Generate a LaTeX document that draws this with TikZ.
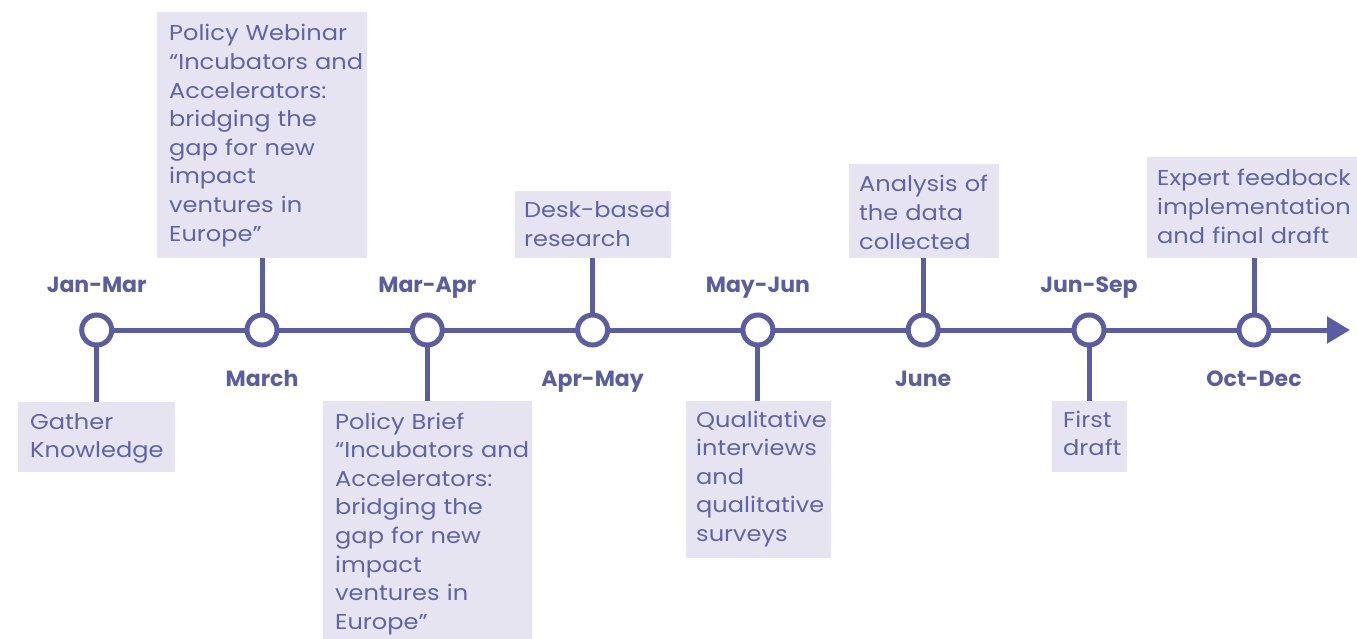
\documentclass[tikz,border=0pt]{standalone}
\usepackage{fontspec}
\setmainfont{Poppins}
\newfontfamily\bodyfont{Poppins}[FakeStretch=1.12]
\usetikzlibrary{arrows.meta}
\definecolor{tline}{RGB}{90,93,162}
\definecolor{ttext}{RGB}{96,99,168}
\definecolor{tfill}{RGB}{230,228,240}
\pgfdeclarelayer{bg}
\pgfsetlayers{bg,main}
\begin{document}
\begin{tikzpicture}[x=1pt,y=-1pt,
  conn/.style={draw=tline,line width=5pt},
  milestone/.style={circle,draw=tline,fill=white,line width=5pt,minimum size=30pt,inner sep=0pt},
  period/.style={font=\fontsize{22}{26}\selectfont\bfseries, text=tline, anchor=base, inner sep=0pt},
  boxbg/.style={fill=tfill, anchor=north west, inner sep=0pt, draw=none},
  boxtext/.style={anchor=base west, inner sep=0pt, text=ttext, text width=230pt, align=left, font=\bodyfont\fontsize{21.5}{28.6}\selectfont}
]
\useasboundingbox (0,0) rectangle (1357,639);
% milestones
\node[milestone] (c1) at (96.7,330) {};
\node[milestone] (c2) at (262,330) {};
\node[milestone] (c3) at (427.3,330) {};
\node[milestone] (c4) at (592.6,330) {};
\node[milestone] (c5) at (757.9,330) {};
\node[milestone] (c6) at (923.2,330) {};
\node[milestone] (c7) at (1089,330) {};
\node[milestone] (c8) at (1254,330) {};
\coordinate (arrowend) at (1350,330);
% period labels
\node[period] (l1) at (96.7,292) {Jan-Mar};
\node[period] (l2) at (262,386) {March};
\node[period] (l3) at (427.3,292) {Mar-Apr};
\node[period] (l4) at (592.6,386) {Apr-May};
\node[period] (l5) at (757.9,292) {May-Jun};
\node[period] (l6) at (923.2,386) {June};
\node[period] (l7) at (1089,292) {Jun-Sep};
\node[period] (l8) at (1254,386) {Oct-Dec};
% boxes
\node[boxbg, minimum width=157pt, minimum height=70pt] (b1) at (18,402) {};
\node[boxtext] (t1) at (30,429) {Gather\\Knowledge};
\node[boxbg, minimum width=210pt, minimum height=246pt] (b2) at (157,12) {};
\node[boxtext] (t2) at (169,41) {Policy Webinar\\“Incubators and\\Accelerators:\\bridging the\\gap for new\\impact\\ventures in\\Europe”};
\node[boxbg, minimum width=209pt, minimum height=245pt] (b3) at (323,401) {};
\node[boxtext] (t3) at (335,429) {Policy Brief\\“Incubators and\\Accelerators:\\bridging the\\gap for new\\impact\\ventures in\\Europe”};
\node[boxbg, minimum width=156pt, minimum height=67pt] (b4) at (515,191) {};
\node[boxtext] (t4) at (524,218) {Desk-based\\research};
\node[boxbg, minimum width=145pt, minimum height=157pt] (b5) at (686,401) {};
\node[boxtext] (t5) at (696,427) {Qualitative\\interviews\\and\\qualitative\\surveys};
\node[boxbg, minimum width=150pt, minimum height=94pt] (b6) at (849,164) {};
\node[boxtext] (t6) at (859,192) {Analysis of\\the data\\collected};
\node[boxbg, minimum width=75pt, minimum height=71pt] (b7) at (1052,401) {};
\node[boxtext] (t7) at (1063,427) {First\\draft};
\node[boxbg, minimum width=210pt, minimum height=101pt] (b8) at (1147,157) {};
\node[boxtext] (t8) at (1157,186) {Expert feedback\\implementation\\and final draft};
% connectors
\begin{pgfonlayer}{bg}
\draw[conn,-{Triangle[length=23pt,width=26pt]}] (c1.center) -- (arrowend);
\draw[conn] (c1.center) -- (c1 |- b1.north);
\draw[conn] (c2.center) -- (c2 |- b2.south);
\draw[conn] (c3.center) -- (c3 |- b3.north);
\draw[conn] (c4.center) -- (c4 |- b4.south);
\draw[conn] (c5.center) -- (c5 |- b5.north);
\draw[conn] (c6.center) -- (c6 |- b6.south);
\draw[conn] (c7.center) -- (c7 |- b7.north);
\draw[conn] (c8.center) -- (c8 |- b8.south);
\end{pgfonlayer}
\end{tikzpicture}
\end{document}
